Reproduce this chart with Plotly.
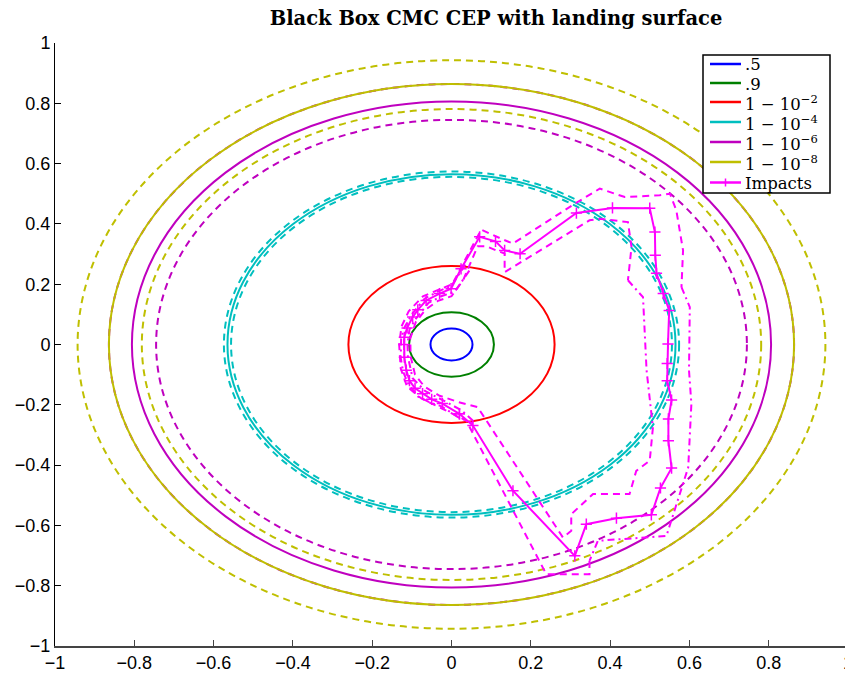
import plotly.graph_objects as go

# ---------------------------------------------------------
# CEP contours (circles, radius in data units)
# ---------------------------------------------------------
cep_labels = [".5", ".9", "1 − 10<sup>−2</sup>", "1 − 10<sup>−4</sup>",
              "1 − 10<sup>−6</sup>", "1 − 10<sup>−8</sup>"]
cep_colors = ["#0000FF", "#008000", "#FF0000", "#00BFBF", "#BF00BF", "#BFBF00"]
r_mid = [0.053, 0.107, 0.260, 0.565, 0.806, 0.864]
r_lo = [None, None, None, 0.556, 0.745, 0.781]
r_hi = [None, None, None, 0.574, 0.864, 0.943]

# ---------------------------------------------------------
# Impacts (closed footprint) + bounding curves
# ---------------------------------------------------------
impact_x = [0.020, -0.023, -0.050, -0.073, -0.092, -0.106, -0.114, -0.119, -0.120,
            -0.119, -0.112, -0.098, -0.085, -0.064, -0.030, -0.001, 0.024, 0.071,
            0.111, 0.134, 0.173, 0.315, 0.406, 0.500, 0.513, 0.514, 0.517, 0.534,
            0.549, 0.546, 0.544, 0.544, 0.555, 0.547, 0.547, 0.555, 0.527, 0.504,
            0.416, 0.340, 0.311, 0.155, 0.054, 0.020]
impact_y = [-0.230, -0.196, -0.182, -0.163, -0.145, -0.120, -0.085, -0.042, 0.000,
            0.024, 0.055, 0.091, 0.115, 0.146, 0.169, 0.185, 0.251, 0.357,
            0.342, 0.312, 0.301, 0.436, 0.453, 0.452, 0.373, 0.296, 0.236, 0.169,
            0.113, 0.002, -0.063, -0.120, -0.184, -0.247, -0.319, -0.410, -0.476, -0.565,
            -0.576, -0.596, -0.701, -0.485, -0.269, -0.230]

# outer bound: dashed part, then dash-dot part on the right side
outer_dash_x = [0.348, 0.348, 0.239, 0.037, -0.020, -0.075, -0.112, -0.128, -0.132,
                -0.126, -0.108, -0.072, -0.032, 0.002, 0.030, 0.075, 0.125, 0.155,
                0.311, 0.374, 0.437, 0.525, 0.551, 0.567, 0.584, 0.580]
outer_dash_y = [-0.718, -0.762, -0.762, -0.252, -0.215, -0.180, -0.140, -0.080, 0.000,
                0.060, 0.110, 0.160, 0.182, 0.200, 0.270, 0.381, 0.351, 0.335,
                0.467, 0.517, 0.489, 0.495, 0.500, 0.445, 0.312, 0.190]
outer_dd_x = [0.580, 0.601, 0.599, 0.605, 0.597, 0.542, 0.369, 0.348]
outer_dd_y = [0.190, 0.124, -0.086, -0.197, -0.408, -0.635, -0.651, -0.718]

# inner bound: dashed part, then dash-dot part on the right side
inner_dash_x = [0.508, 0.500, 0.466, 0.449, 0.357, 0.302, 0.302, 0.281, 0.066, 0.015,
                -0.030, -0.068, -0.092, -0.103, -0.104, -0.090, -0.066, -0.034, 0.000,
                0.030, 0.066, 0.088, 0.113, 0.134, 0.134, 0.155, 0.348, 0.374, 0.445,
                0.454, 0.445]
inner_dash_y = [-0.275, -0.385, -0.419, -0.496, -0.496, -0.563, -0.618, -0.640, -0.208,
                -0.190, -0.170, -0.140, -0.100, -0.040, 0.020, 0.075, 0.115, 0.145,
                0.160, 0.215, 0.326, 0.326, 0.312, 0.302, 0.240, 0.257, 0.412, 0.417,
                0.406, 0.323, 0.213]
inner_dd_x = [0.445, 0.483, 0.492, 0.508]
inner_dd_y = [0.213, 0.157, -0.086, -0.275]

# dash-dot bounds hugging the impacts around the left cluster
left_dd_out_x = [0.035, 0.000, -0.030, -0.068, -0.100, -0.118, -0.127, -0.128, -0.122,
                 -0.110, -0.085, -0.055, -0.025, 0.015, 0.055]
left_dd_out_y = [0.265, 0.195, 0.178, 0.152, 0.100, 0.058, 0.020, -0.045, -0.090,
                 -0.128, -0.172, -0.192, -0.205, -0.240, -0.262]
left_dd_in_x = [0.045, 0.008, -0.026, -0.058, -0.090, -0.106, -0.111, -0.110, -0.098,
                -0.066, -0.020, 0.025, 0.062]
left_dd_in_y = [0.245, 0.175, 0.160, 0.138, 0.085, 0.050, 0.000, -0.040, -0.112,
                -0.155, -0.186, -0.218, -0.262]

IMPACT_COLOR = "#FF00FF"
DASH = "7px,5px"
DASHDOT = "7px,4px,2px,4px"

# figure size: page body keeps an 8px margin, so the figure is a bit smaller
W, H = 845, 667
ML, MR, MT, MB = 47, 5, 35, 29
OFF = 8  # body margin in the page


def px_to_paper_x(px):
    return (px - OFF - ML) / (W - ML - MR)


def px_to_paper_y(py):
    return (H - MB - (py - OFF)) / (H - MT - MB)


fig = go.Figure()

# circles as shapes in data coordinates (behind the impacts)
for col, rm, rl, rh in zip(cep_colors, r_mid, r_lo, r_hi):
    for r, dash in ((rm, "solid"), (rl, DASH), (rh, DASH)):
        if r is None:
            continue
        fig.add_shape(
            type="circle", xref="x", yref="y",
            x0=-r, x1=r, y0=-r, y1=r,
            line=dict(color=col, width=2, dash=dash),
            layer="below",
        )

for xs, ys, dash in (
    (outer_dash_x, outer_dash_y, DASH),
    (outer_dd_x, outer_dd_y, DASHDOT),
    (inner_dash_x, inner_dash_y, DASH),
    (inner_dd_x, inner_dd_y, DASHDOT),
    (left_dd_out_x, left_dd_out_y, DASHDOT),
    (left_dd_in_x, left_dd_in_y, DASHDOT),
):
    fig.add_trace(go.Scatter(
        x=xs, y=ys, mode="lines", showlegend=False,
        line=dict(color=IMPACT_COLOR, width=2, dash=dash),
    ))

fig.add_trace(go.Scatter(
    x=impact_x, y=impact_y, mode="lines+markers", name="Impacts", showlegend=False,
    line=dict(color=IMPACT_COLOR, width=2),
    marker=dict(symbol="cross-thin", size=8, line=dict(color=IMPACT_COLOR, width=1.5)),
))

# ---------------------------------------------------------
# Legend (MATLAB style box, drawn by hand for tight rows)
# ---------------------------------------------------------
leg_labels = cep_labels + ["Impacts"]
leg_colors = cep_colors + [IMPACT_COLOR]
leg_rows = [64, 83, 102, 122, 142, 162, 182.5]
box_l, box_r, box_t, box_b = 703, 830, 55, 193

fig.add_shape(
    type="rect", xref="paper", yref="paper",
    x0=px_to_paper_x(box_l), x1=px_to_paper_x(box_r),
    y0=px_to_paper_y(box_b), y1=px_to_paper_y(box_t),
    line=dict(color="black", width=1.5), fillcolor="white", layer="above",
)
for lab, col, yc in zip(leg_labels, leg_colors, leg_rows):
    fig.add_shape(
        type="line", xref="paper", yref="paper",
        x0=px_to_paper_x(710), x1=px_to_paper_x(741),
        y0=px_to_paper_y(yc), y1=px_to_paper_y(yc),
        line=dict(color=col, width=2.5), layer="above",
    )
    if lab == "Impacts":
        fig.add_shape(
            type="line", xref="paper", yref="paper",
            x0=px_to_paper_x(725.5), x1=px_to_paper_x(725.5),
            y0=px_to_paper_y(yc - 4), y1=px_to_paper_y(yc + 4),
            line=dict(color=col, width=1.5), layer="above",
        )
    fig.add_annotation(
        xref="paper", yref="paper",
        x=px_to_paper_x(744), y=px_to_paper_y(yc + 1),
        xanchor="left", yanchor="middle", showarrow=False,
        text=lab, borderpad=0,
        font=dict(family="DejaVu Serif", size=16.5, color="black"),
    )

fig.update_layout(
    width=W,
    height=H,
    showlegend=False,
    plot_bgcolor="white",
    paper_bgcolor="white",
    margin=dict(l=ML, r=MR, t=MT, b=MB),
    title=dict(
        text="<b>Black Box CMC CEP with landing surface</b>",
        x=(496 - OFF) / W, xanchor="center",
        y=1 - (18 - OFF) / H, yanchor="middle",
        font=dict(family="DejaVu Serif", size=19.5, color="black"),
    ),
    font=dict(family="Liberation Sans", size=18, color="black"),
)

fig.update_xaxes(
    range=[-1, 1], tickmode="linear", tick0=-1, dtick=0.2,
    showgrid=False, zeroline=False, automargin=False,
    ticklabeloverflow="allow",
    showline=True, linecolor="#444", linewidth=1.5,
    ticks="inside", ticklen=6, tickcolor="#444",
)
fig.update_yaxes(
    range=[-1, 1], tickmode="linear", tick0=-1, dtick=0.2,
    showgrid=False, zeroline=False, automargin=False,
    ticklabeloverflow="allow",
    showline=True, linecolor="black", linewidth=1,
    ticks="inside", ticklen=6, tickcolor="black",
)

fig.write_html("out.html")
